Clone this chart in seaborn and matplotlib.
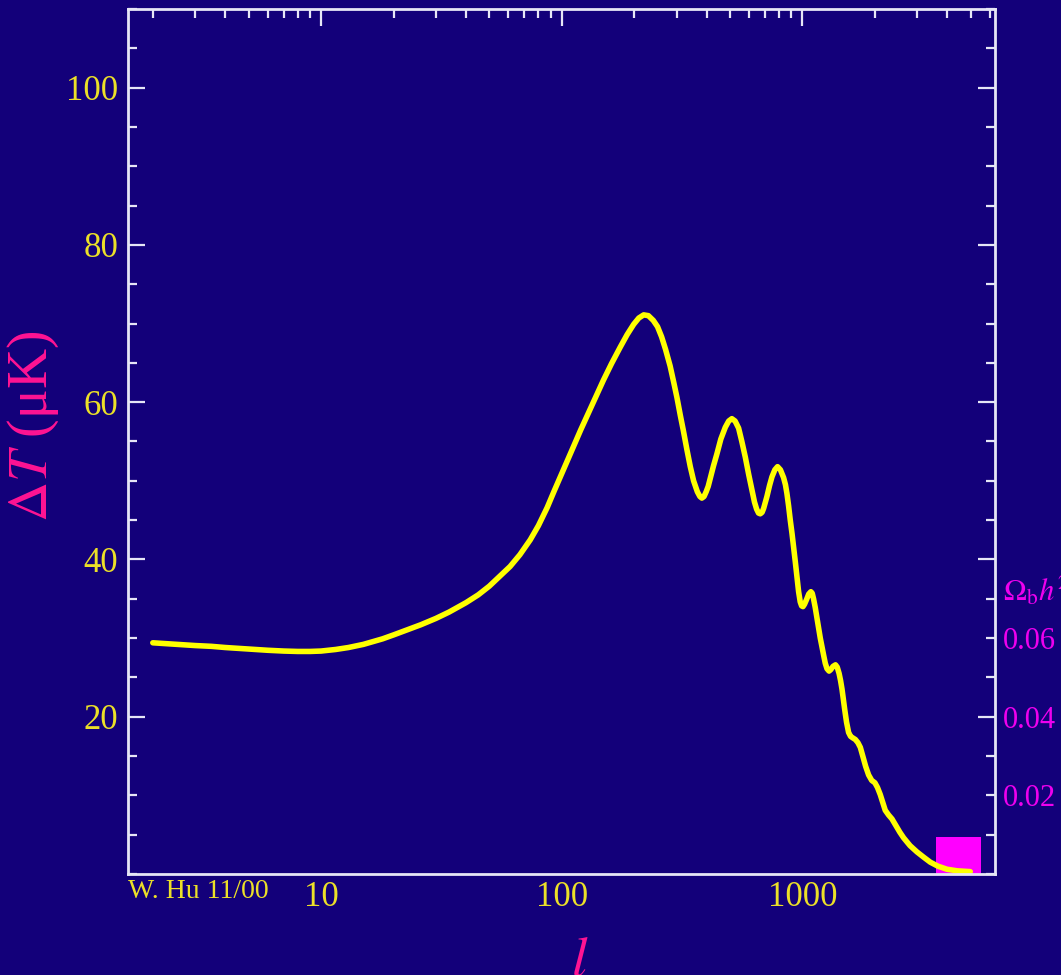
import matplotlib
matplotlib.use("Agg")
import matplotlib.pyplot as plt
import seaborn as sns
import pandas as pd
from matplotlib.ticker import LogLocator, MultipleLocator, NullFormatter

# ---- data ----
multipole = [2, 2.5, 3, 3.5, 4, 5, 6, 7, 8, 9, 10, 11.5, 13, 15, 18, 20, 23, 26, 30,
             34, 40, 45, 50, 55, 61, 67, 74, 80, 87, 93, 100, 106, 112, 120, 129,
             139, 149, 161, 175, 187, 199, 209, 219, 229, 240, 250, 260, 270, 282,
             292, 301, 311, 320, 331, 342, 353, 366, 375, 382, 390, 398, 406, 414,
             427, 441, 458, 478, 494, 509, 525, 543, 560, 579, 598, 617, 632, 645,
             657, 668, 680, 690, 700, 712, 730, 747, 768, 788, 810, 835, 850, 862,
             876, 890, 905, 919, 934, 949, 964, 979, 992, 1005, 1020, 1040, 1062,
             1084, 1098, 1112, 1130, 1148, 1167, 1186, 1205, 1225, 1244, 1265, 1290,
             1312, 1340, 1372, 1395, 1420, 1440, 1460, 1480, 1500, 1525, 1555, 1585,
             1620, 1659, 1700, 1740, 1780, 1830, 1883, 1940, 2000, 2050, 2105, 2155,
             2208, 2280, 2355, 2450, 2540, 2632, 2800, 2992, 3200, 3398, 3650, 3988,
             4400, 4980]
delta_t = [29.4, 29.2, 29.05, 28.95, 28.8, 28.6, 28.45, 28.35, 28.3, 28.3, 28.35,
           28.55, 28.8, 29.2, 29.9, 30.4, 31.1, 31.7, 32.5, 33.3, 34.5, 35.5, 36.6,
           37.8, 39.1, 40.6, 42.5, 44.3, 46.6, 48.7, 50.9, 52.7, 54.4, 56.5, 58.6,
           60.8, 62.8, 64.9, 67.0, 68.6, 69.9, 70.7, 71.1, 71.0, 70.4, 69.6, 68.3,
           66.7, 64.6, 62.5, 60.6, 58.3, 56.4, 54.0, 51.8, 50.0, 48.6, 48.0, 47.8,
           48.0, 48.6, 49.3, 50.3, 51.9, 53.4, 55.3, 56.8, 57.6, 57.9, 57.6, 56.7,
           55.0, 53.0, 50.8, 48.8, 47.3, 46.4, 45.9, 45.8, 46.0, 46.5, 47.2, 48.0,
           49.4, 50.5, 51.4, 51.8, 51.4, 50.4, 49.5, 48.4, 46.8, 45.0, 43.3, 41.6,
           39.7, 37.8, 35.9, 34.6, 34.1, 34.0, 34.3, 34.9, 35.6, 35.9, 35.7, 35.0,
           33.9, 32.6, 31.2, 30.0, 28.9, 27.8, 26.8, 26.1, 25.8, 26.0, 26.4, 26.6,
           26.3, 25.5, 24.6, 23.5, 22.1, 20.8, 19.3, 18.0, 17.5, 17.3, 17.1, 16.7,
           16.1, 15.0, 13.7, 12.6, 11.9, 11.6, 11.0, 10.1, 9.1, 8.1, 7.5, 7.0, 6.1,
           5.3, 4.6, 3.6, 2.8, 2.1, 1.5, 1.0, 0.6, 0.4, 0.3]

x_ticks = [10, 100, 1000]
x_tick_labels = ["10", "100", "1000"]
y_ticks = [20, 40, 60, 80, 100]
y_tick_labels = ["20", "40", "60", "80", "100"]
obh2_ticks = [0.02, 0.04, 0.06]
obh2_tick_labels = ["0.02", "0.04", "0.06"]
slider_l = [3600, 5530]
slider_obh2 = [0.0095, 0.0095]

# ---- style ----
BG = "#13007a"
FRAME = "#e6e6f6"
YELLOW = "#ffff00"
LABEL_YELLOW = "#ece028"
PINK = "#ff1493"
MAGENTA = "#ee00ee"

sns.set_style("dark", rc={"axes.facecolor": BG, "figure.facecolor": BG,
                          "axes.grid": False})
plt.rcParams["font.family"] = ["Liberation Serif", "DejaVu Serif"]
plt.rcParams["mathtext.fontset"] = "stix"

df = pd.DataFrame({"l": multipole, "T": delta_t})

fig = plt.figure(figsize=(10.61, 9.75), dpi=100, facecolor=BG)
ax = fig.add_axes([0.1211, 0.1036, 0.8167, 0.8872])
ax2 = ax.twinx()
ax.set_zorder(ax2.get_zorder() + 1)
ax.patch.set_visible(False)
ax2.patch.set_visible(True)
ax2.patch.set_facecolor(BG)

ax.set_xscale("log")

# slider box on the Omega_b h^2 scale
ax2.fill_between(slider_l, 0, slider_obh2, color="#ff00ff", lw=0)
ax2.set_ylim(0, 0.22)

sns.lineplot(data=df, x="l", y="T", ax=ax, color=YELLOW, lw=4.0,
             estimator=None, sort=False, solid_joinstyle="round",
             solid_capstyle="round")

ax.set_xlim(10 ** 0.2, 10 ** 3.8)
ax.set_ylim(0, 110)

ax.set_xticks(x_ticks, x_tick_labels)
ax.xaxis.set_minor_locator(LogLocator(base=10, subs=range(2, 10)))
ax.xaxis.set_minor_formatter(NullFormatter())
ax.set_yticks(y_ticks, y_tick_labels)
ax.yaxis.set_minor_locator(MultipleLocator(5))

ax.tick_params(which="both", direction="in", top=True, right=True,
               color=FRAME, labelcolor=LABEL_YELLOW, labelsize=25)
ax.tick_params(which="major", length=12, width=1.6)
ax.tick_params(which="minor", length=6.5, width=1.6)
ax.tick_params(axis="x", which="both", pad=5)
ax.tick_params(axis="y", which="both", pad=7.5)
for s in ax.spines.values():
    s.set_visible(True)
    s.set_color(FRAME)
    s.set_linewidth(2.0)
for s in ax2.spines.values():
    s.set_visible(False)

ax2.set_yticks(obh2_ticks, obh2_tick_labels)
ax2.tick_params(axis="y", length=0, pad=6, labelsize=22, labelcolor=MAGENTA)

ax.set_ylabel(r"$\Delta T$ (μK)", fontsize=40, color=PINK)
ax.yaxis.set_label_coords(-0.078, 0.517)
ax.set_xlabel(r"$l$", fontsize=40, color=PINK)
ax.xaxis.set_label_coords(0.521, -0.071)

ax.text(0.0, -0.006, "W. Hu 11/00", transform=ax.transAxes, ha="left",
        va="top", fontsize=20, color=LABEL_YELLOW)
ax.text(1.009, 36 / 110, r"$\Omega_{\rm b}h^2$", transform=ax.transAxes,
        ha="left", va="center", fontsize=22, color=MAGENTA, clip_on=False)

fig.savefig("out.png", dpi=100, facecolor=BG)
